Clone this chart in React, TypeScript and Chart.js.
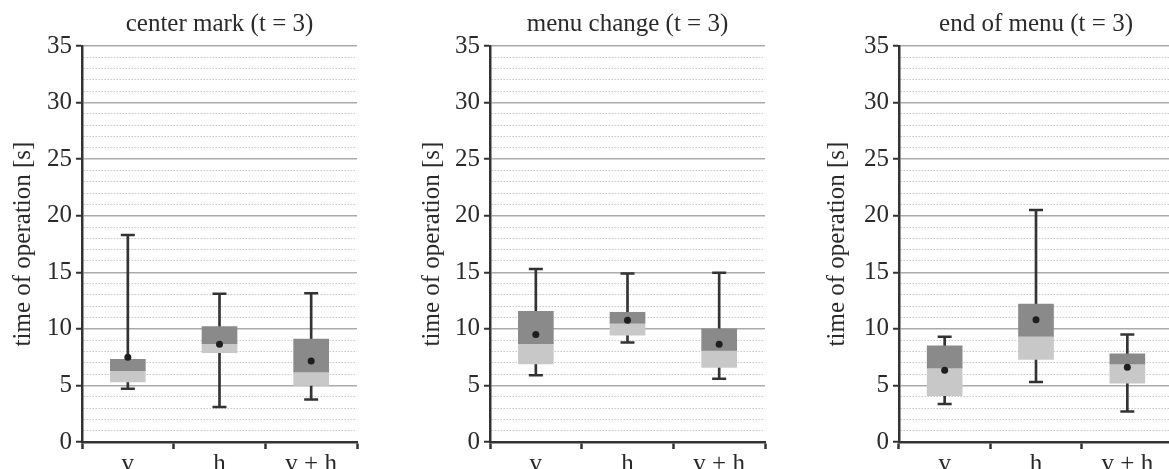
import React, { useEffect, useRef } from "react";
import { Chart, registerables } from "chart.js";

Chart.register(...registerables);

// ---------- data ----------
const categories = ["v", "h", "v + h"];
const panelTitles = ["center mark (t = 3)", "menu change (t = 3)", "end of menu (t = 3)"];
const yAxisTitle = "time of operation [s]";
const yMin = 0;
const yMax = 35;
const yMinorStep = 1;
const yMajorStep = 5;

// center mark
const centerMin = [4.7, 3.1, 3.75];
const centerQ1 = [5.3, 7.9, 5.0];
const centerMedian = [6.3, 8.7, 6.2];
const centerQ3 = [7.3, 10.2, 9.1];
const centerMax = [18.3, 13.1, 13.15];
const centerMean = [7.5, 8.65, 7.15];

// menu change
const menuMin = [5.9, 8.8, 5.6];
const menuQ1 = [6.9, 9.45, 6.6];
const menuMedian = [8.7, 10.5, 8.1];
const menuQ3 = [11.55, 11.45, 10.0];
const menuMax = [15.3, 14.9, 14.95];
const menuMean = [9.5, 10.75, 8.65];

// end of menu
const endMin = [3.35, 5.3, 2.7];
const endQ1 = [4.1, 7.3, 5.2];
const endMedian = [6.55, 9.35, 6.9];
const endQ3 = [8.5, 12.2, 7.8];
const endMax = [9.3, 20.5, 9.5];
const endMean = [6.35, 10.8, 6.6];

const panelData = [
  { min: centerMin, q1: centerQ1, median: centerMedian, q3: centerQ3, max: centerMax, mean: centerMean },
  { min: menuMin, q1: menuQ1, median: menuMedian, q3: menuQ3, max: menuMax, mean: menuMean },
  { min: endMin, q1: endQ1, median: endMedian, q3: endQ3, max: endMax, mean: endMean },
];

// ---------- layout / style ----------
const FONT = "'Liberation Serif', 'Times New Roman', serif";
const TEXT = "#2a2a2a";
const AXIS = "#333333";
const DARK = "#8a8a8a";
const LIGHT = "#c8c8c8";
const MAJOR_GRID = "#ababab";
const MINOR_GRID = "#c8c8c8";

const layouts = [
  { left: 0, width: 360, axisWidth: 82, padRight: 3 },
  { left: 409, width: 360, axisWidth: 81, padRight: 4 },
  { left: 814, width: 362, axisWidth: 85, padRight: 3 },
];
const CANVAS_H = 490;

function Panel({ idx }: { idx: number }) {
  const ref = useRef<HTMLCanvasElement | null>(null);
  useEffect(() => {
    const d = panelData[idx];
    const L = layouts[idx];
    const isMajor = (v: number) => Math.abs(v % yMajorStep) < 1e-9;
    const chart = new Chart(ref.current as HTMLCanvasElement, {
      type: "bar",
      data: {
        labels: categories,
        datasets: [
          {
            type: "line",
            data: d.mean,
            showLine: false,
            pointStyle: "circle",
            pointRadius: 3.5,
            pointBackgroundColor: "#1e1e1e",
            pointBorderColor: "#1e1e1e",
            pointBorderWidth: 0,
            order: 1,
          } as any,
          {
            type: "line",
            data: d.min,
            showLine: false,
            pointStyle: "line",
            pointRadius: 7,
            pointBorderWidth: 2.5,
            pointBorderColor: AXIS,
            order: 2,
          } as any,
          {
            type: "line",
            data: d.max,
            showLine: false,
            pointStyle: "line",
            pointRadius: 7,
            pointBorderWidth: 2.5,
            pointBorderColor: AXIS,
            order: 2,
          } as any,
          {
            type: "bar",
            data: d.median.map((m, i) => [m, d.q3[i]]),
            backgroundColor: DARK,
            borderWidth: 0,
            barThickness: 35,
            grouped: false,
            order: 3,
          } as any,
          {
            type: "bar",
            data: d.q1.map((q, i) => [q, d.median[i]]),
            backgroundColor: LIGHT,
            borderWidth: 0,
            barThickness: 35,
            grouped: false,
            order: 3,
          } as any,
          {
            type: "bar",
            data: d.min.map((m, i) => [m, d.max[i]]),
            backgroundColor: AXIS,
            borderWidth: 0,
            barThickness: 2,
            grouped: false,
            order: 4,
          } as any,
        ],
      },
      options: {
        animation: false,
        responsive: false,
        devicePixelRatio: 1,
        events: [],
        layout: { autoPadding: false, padding: { top: 0, left: 0, bottom: 0, right: L.padRight } },
        plugins: {
          legend: { display: false },
          tooltip: { enabled: false },
          title: {
            display: true,
            text: panelTitles[idx],
            fullSize: false,
            color: TEXT,
            font: { family: FONT, size: 25, weight: "normal", lineHeight: 1.2 },
            padding: { top: 9, bottom: 7 },
          },
        },
        scales: {
          x: {
            type: "category",
            offset: true,
            afterFit: (s: any) => {
              s.height = 48;
            },
            grid: {
              offset: true,
              drawOnChartArea: false,
              drawTicks: true,
              tickLength: 7,
              tickColor: AXIS,
              tickWidth: 2.5,
            },
            border: { display: true, color: AXIS, width: 2.5 },
            ticks: {
              color: TEXT,
              padding: 0,
              font: { family: FONT, size: 25 },
            },
          },
          y: {
            min: yMin,
            max: yMax,
            afterFit: (s: any) => {
              s.width = L.axisWidth;
            },
            ticks: {
              stepSize: yMinorStep,
              autoSkip: false,
              color: TEXT,
              padding: 4,
              font: { family: FONT, size: 25 },
              callback: (v: any) => (isMajor(Number(v)) ? String(v) : ""),
            },
            grid: {
              color: (c: any) => (c.tick && isMajor(c.tick.value) ? MAJOR_GRID : MINOR_GRID),
              lineWidth: (c: any) => (c.tick && isMajor(c.tick.value) ? 1.5 : 1),
              drawTicks: true,
              tickLength: 6,
              tickColor: (c: any) => (c.tick && isMajor(c.tick.value) ? AXIS : "rgba(0,0,0,0)"),
              tickWidth: 2,
            },
            border: {
              display: true,
              color: AXIS,
              width: 2.5,
              dash: (c: any) => (c.tick && !isMajor(c.tick.value) ? [1.5, 1.5] : []),
            },
            title: {
              display: true,
              text: yAxisTitle,
              color: TEXT,
              font: { family: FONT, size: 25, lineHeight: 1.2 },
              padding: { top: 8, bottom: 0 },
            },
          },
        },
      } as any,
    });
    return () => chart.destroy();
  }, [idx]);
  const L = layouts[idx];
  return (
    <canvas
      ref={ref}
      width={L.width}
      height={CANVAS_H}
      style={{ position: "absolute", left: L.left, top: 0, width: L.width, height: CANVAS_H, display: "block" }}
    />
  );
}

export default function App() {
  return (
    <div
      style={{
        position: "absolute",
        left: 0,
        top: 0,
        width: 1169,
        height: 469,
        overflow: "hidden",
        background: "#ffffff",
      }}
    >
      {panelData.map((_, i) => (
        <Panel key={i} idx={i} />
      ))}
    </div>
  );
}
